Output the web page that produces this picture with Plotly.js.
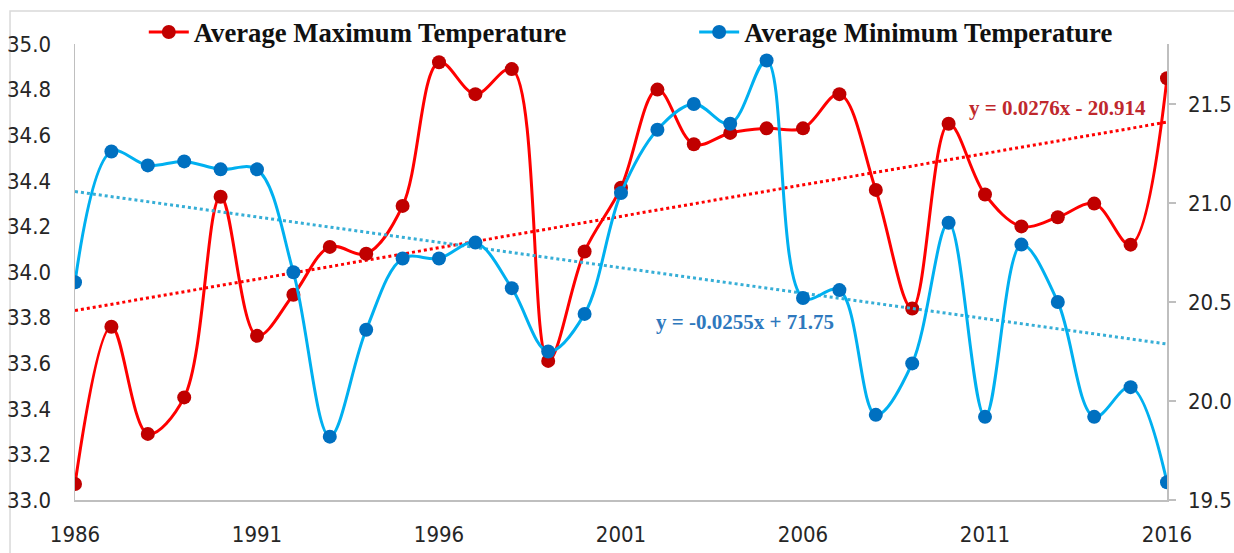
<!DOCTYPE html>
<html><head><meta charset="utf-8">
<script src="https://cdn.plot.ly/plotly-3.0.1.min.js"></script>
<style>html,body{margin:0;padding:0;background:#fff}#chart{width:1234px;height:553px}</style>
</head><body><div id="chart"></div>
<script>
const years = [1986,1987,1988,1989,1990,1991,1992,1993,1994,1995,1996,1997,1998,1999,2000,2001,2002,2003,2004,2005,2006,2007,2008,2009,2010,2011,2012,2013,2014,2015,2016];
const maxTemp = [33.07,33.76,33.29,33.45,34.33,33.72,33.90,34.11,34.08,34.29,34.92,34.78,34.89,33.61,34.09,34.37,34.80,34.56,34.61,34.63,34.63,34.78,34.36,33.84,34.65,34.34,34.20,34.24,34.30,34.12,34.85];
const minTemp = [20.60,21.26,21.19,21.21,21.17,21.17,20.65,19.82,20.36,20.72,20.72,20.80,20.57,20.25,20.44,21.05,21.37,21.50,21.40,21.72,20.52,20.56,19.93,20.19,20.90,19.92,20.79,20.50,19.92,20.07,19.59];
const xTickVals = [1986,1991,1996,2001,2006,2011,2016];
const leftTicks = [33.0,33.2,33.4,33.6,33.8,34.0,34.2,34.4,34.6,34.8,35.0];
const rightTicks = [19.5,20.0,20.5,21.0,21.5];
const seriesNames = ['Average Maximum Temperature','Average Minimum Temperature'];
const trendLabels = ['y = 0.0276x - 20.914','y = -0.0255x + 71.75'];

function fit(xs, ys){
  const n = xs.length;
  let sx=0, sy=0, sxx=0, sxy=0;
  for(let i=0;i<n;i++){sx+=xs[i];sy+=ys[i];sxx+=xs[i]*xs[i];sxy+=xs[i]*ys[i];}
  const m = (n*sxy - sx*sy)/(n*sxx - sx*sx);
  const b = (sy - m*sx)/n;
  const x0 = xs[0], x1 = xs[n-1];
  return {x:[x0,x1], y:[m*x0+b, m*x1+b]};
}
const tMax = fit(years, maxTemp);
const tMin = fit(years, minTemp);

const tickFont = {family:'"Liberation Sans Narrow","DejaVu Sans Condensed",Arial,sans-serif', size:22, color:'#262626'};
const serif = '"Liberation Serif","DejaVu Serif",serif';
const legendFont = {family:serif, size:26.7, color:'#111', weight:'bold'};

const traces = [
  {x:tMax.x, y:tMax.y, type:'scatter', mode:'lines', yaxis:'y', showlegend:false, hoverinfo:'skip',
   line:{color:'#FF0000', width:3, dash:'dot'}},
  {x:tMin.x, y:tMin.y, type:'scatter', mode:'lines', yaxis:'y2', showlegend:false, hoverinfo:'skip',
   line:{color:'#36AED6', width:3, dash:'dot'}},
  {x:years, y:maxTemp, name:seriesNames[0], type:'scatter', mode:'lines+markers', yaxis:'y', legend:'legend',
   line:{color:'#FF0000', width:3, shape:'spline', smoothing:1},
   marker:{color:'#C00000', size:14}},
  {x:years, y:minTemp, name:seriesNames[1], type:'scatter', mode:'lines+markers', yaxis:'y2', legend:'legend2',
   line:{color:'#00B0F0', width:3, shape:'spline', smoothing:1},
   marker:{color:'#0070C0', size:14}}
];

const layout = {
  width:1234, height:553,
  margin:{l:75, r:67, t:44, b:53, autoexpand:false},
  paper_bgcolor:'#fff', plot_bgcolor:'#fff',
  showlegend:true,
  legend:{orientation:'h', x:0.063, xanchor:'left', y:1.026, yanchor:'middle',
          font:legendFont, bgcolor:'rgba(0,0,0,0)', itemwidth:40},
  legend2:{orientation:'h', x:0.567, xanchor:'left', y:1.026, yanchor:'middle',
          font:legendFont, bgcolor:'rgba(0,0,0,0)', itemwidth:40},
  xaxis:{range:[1986,2016], tickvals:xTickVals, ticktext:xTickVals.map(String),
         showline:true, linecolor:'#BFBFBF', linewidth:1.5, ticks:'', showgrid:false, zeroline:false,
         tickfont:tickFont, ticklabelstandoff:14, fixedrange:true},
  yaxis:{range:[33,35], tickvals:leftTicks, ticktext:leftTicks.map(v=>v.toFixed(1)),
         showline:true, linecolor:'#BFBFBF', linewidth:1.5, ticks:'', showgrid:false, zeroline:false,
         tickfont:tickFont, ticklabelstandoff:18, fixedrange:true},
  yaxis2:{range:[19.5,21.803], overlaying:'y', side:'right', tickvals:rightTicks, ticktext:rightTicks.map(v=>v.toFixed(1)),
         showline:true, linecolor:'#BFBFBF', linewidth:1.5, ticks:'outside', ticklen:7, tickcolor:'#BFBFBF', tickwidth:1.5,
         showgrid:false, zeroline:false, tickfont:tickFont, ticklabelstandoff:8, fixedrange:true},
  shapes:[{type:'rect', xref:'paper', yref:'paper', x0:-0.0595, x1:1.1, y0:-0.2, y1:1.0724,
           line:{color:'#D9D9D9', width:1.5}, fillcolor:'rgba(0,0,0,0)', layer:'below'}],
  annotations:[
    {xref:'paper', yref:'paper', x:0.900, y:0.860, xanchor:'center', yanchor:'middle', text:'<b>'+trendLabels[0]+'</b>', showarrow:false,
     font:{family:serif, size:21, color:'#C0282D'}},
    {xref:'paper', yref:'paper', x:0.6136, y:0.390, xanchor:'center', yanchor:'middle', text:'<b>'+trendLabels[1]+'</b>', showarrow:false,
     font:{family:serif, size:21, color:'#2E78BD'}}
  ]
};
Plotly.newPlot('chart', traces, layout, {displayModeBar:false, staticPlot:true});
</script></body></html>
